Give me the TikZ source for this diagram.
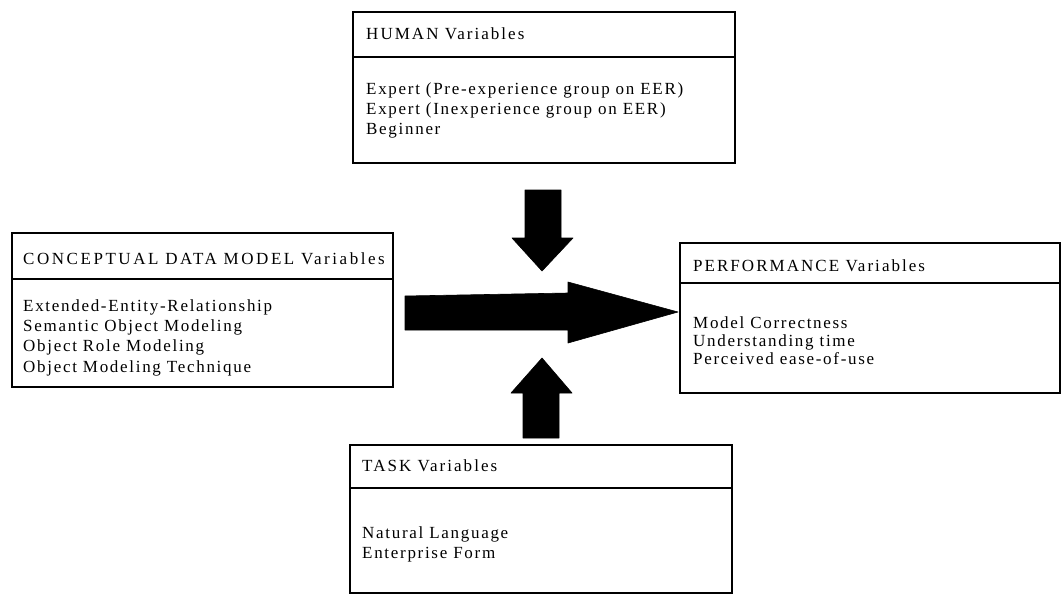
\documentclass[tikz,border=0pt]{standalone}
\usepackage{fontspec}
\setmainfont{Liberation Serif}[LetterSpace=10]
\newfontfamily\hdrfont{Liberation Serif}[LetterSpace=12]
\newfontfamily\hdrwidefont{Liberation Serif}[LetterSpace=15]
\begin{document}
\begin{tikzpicture}[x=1pt,y=-1pt,
  box/.style={draw=black, line width=1.5pt, fill=none, inner sep=0pt, outer sep=0pt, anchor=north west},
  divider/.style={draw=black, line width=2pt},
  hdr/.style={anchor=base west, inner sep=0pt, font=\hdrfont\fontsize{17}{20}\selectfont},
  hdrwide/.style={anchor=base west, inner sep=0pt, font=\hdrwidefont\fontsize{17}{20}\selectfont},
  item/.style={anchor=base west, inner sep=0pt, font=\fontsize{17}{20}\selectfont},
  bigarrow/.style={fill=black, draw=black, line width=0.6pt, line join=round}
]
\useasboundingbox (0,0) rectangle (1063,595);

% ---------- boxes ----------
\node[box, minimum width=382pt, minimum height=151pt] (human) at (353,12) {};
\node[box, minimum width=381pt, minimum height=154pt] (cdm) at (12,233) {};
\node[box, minimum width=380pt, minimum height=150pt] (perf) at (680,243) {};
\node[box, minimum width=382pt, minimum height=148pt] (task) at (350,445) {};

\draw[divider] (human.west |- 0,57) -- (human.east |- 0,57);
\draw[divider] (cdm.west |- 0,279) -- (cdm.east |- 0,279);
\draw[divider] (perf.west |- 0,283) -- (perf.east |- 0,283);
\draw[divider] (task.west |- 0,488) -- (task.east |- 0,488);

% ---------- HUMAN ----------
\node[hdr] (humanH) at (366,39) {HUMAN Variables};
\node[item] (human1) at (366,94) {Expert (Pre-experience group on EER)};
\node[item] (human2) at (366,114) {Expert (Inexperience group on EER)};
\node[item] (human3) at (366,134) {Beginner};

% ---------- CONCEPTUAL DATA MODEL ----------
\node[hdrwide] (cdmH) at (23,264) {CONCEPTUAL DATA MODEL Variables};
\node[item] (cdm1) at (23,311) {Extended-Entity-Relationship};
\node[item] (cdm2) at (23,331) {Semantic Object Modeling};
\node[item] (cdm3) at (23,351) {Object Role Modeling};
\node[item] (cdm4) at (23,372) {Object Modeling Technique};

% ---------- PERFORMANCE ----------
\node[hdr] (perfH) at (693,271) {PERFORMANCE Variables};
\node[item] (perf1) at (693,328) {Model Correctness};
\node[item] (perf2) at (693,346) {Understanding time};
\node[item] (perf3) at (693,364) {Perceived ease-of-use};

% ---------- TASK ----------
\node[hdr] (taskH) at (362,471) {TASK Variables};
\node[item] (task1) at (362,538) {Natural Language};
\node[item] (task2) at (362,558) {Enterprise Form};

% ---------- block arrows ----------
% down arrow (HUMAN -> centre)
\path[bigarrow] (525,190) -- (561,190) -- (561,238) -- (573,238) -- (542,271)
  -- (512,238) -- (525,238) -- cycle;
% up arrow (TASK -> centre)
\path[bigarrow] (523,438) -- (559,438) -- (559,393) -- (572,393) -- (542,358)
  -- (511,393) -- (523,393) -- cycle;
% main arrow (CDM -> PERFORMANCE)
\path[bigarrow] (405,296) -- (568,293) -- (568,282) -- (678,312) -- (568,343)
  -- (568,330) -- (405,330) -- cycle;
\end{tikzpicture}
\end{document}
